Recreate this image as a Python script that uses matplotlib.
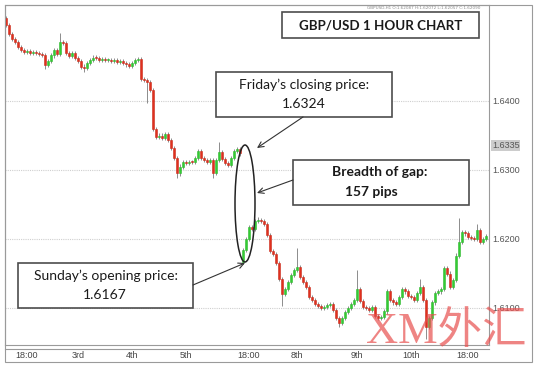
import numpy as np
import matplotlib.pyplot as plt
from matplotlib.patches import Rectangle, Ellipse
from matplotlib.transforms import blended_transform_factory

# GBP/USD hourly closes
first_open = 1.6520
closes = [
    1.6510, 1.6497, 1.6490, 1.6486, 1.6478, 1.6474, 1.6471, 1.6472, 1.6470, 1.6471,
    1.6469, 1.6468, 1.6467, 1.6452, 1.6458, 1.6466, 1.6474, 1.6468, 1.6486, 1.6484,
    1.6470, 1.6465, 1.6470, 1.6462, 1.6458, 1.6450, 1.6448, 1.6455, 1.6460, 1.6463,
    1.6462, 1.6460, 1.6461, 1.6459, 1.6460, 1.6458, 1.6460, 1.6457, 1.6458, 1.6455,
    1.6453, 1.6451, 1.6455, 1.6460, 1.6461, 1.6432, 1.6430, 1.6428, 1.6416, 1.6360,
    1.6348, 1.6350, 1.6346, 1.6352, 1.6343, 1.6332, 1.6318, 1.6295, 1.6305, 1.6312,
    1.6310, 1.6312, 1.6311, 1.6318, 1.6328, 1.6318, 1.6315, 1.6312, 1.6314, 1.6296,
    1.6314, 1.6326, 1.6316, 1.6310, 1.6307, 1.6318, 1.6328, 1.6330, 1.6324,
    # weekend gap
    1.6184, 1.6200, 1.6217, 1.6214, 1.6226, 1.6228, 1.6226, 1.6222, 1.6206, 1.6182,
    1.6178, 1.6165, 1.6142, 1.6120, 1.6128, 1.6138, 1.6148, 1.6155, 1.6159, 1.6145,
    1.6138, 1.6130, 1.6116, 1.6112, 1.6106, 1.6103, 1.6100, 1.6101, 1.6104, 1.6106,
    1.6097, 1.6085, 1.6078, 1.6086, 1.6094, 1.6100, 1.6106, 1.6112, 1.6128, 1.6110,
    1.6102, 1.6100, 1.6097, 1.6102, 1.6089, 1.6086, 1.6087, 1.6095, 1.6124, 1.6112,
    1.6108, 1.6106, 1.6116, 1.6128, 1.6124, 1.6118, 1.6116, 1.6112, 1.6122, 1.6130,
    1.6112, 1.6072, 1.6085, 1.6108, 1.6122, 1.6124, 1.6128, 1.6158, 1.6150, 1.6130,
    1.6140, 1.6176, 1.6196, 1.6210, 1.6208, 1.6203, 1.6202, 1.6200, 1.6213, 1.6196,
    1.6200, 1.6204,
]
gap_index = 79
sunday_open = 1.6167
friday_close = 1.6324

# long wicks
spike_idx = [13, 18, 26, 47, 57, 69, 71, 84, 92, 97, 111, 117, 138, 140, 151, 157]
spike_val = [1.6446, 1.6498, 1.6442, 1.6397, 1.6288, 1.6288, 1.6340, 1.6232, 1.6103,
             1.6187, 1.6072, 1.6155, 1.6142, 1.6055, 1.6230, 1.6222]

price_levels = [1.6400, 1.6300, 1.6200, 1.6100]
price_labels = ['1.6400', '1.6300', '1.6200', '1.6100']
last_price = 1.6335
time_pos = [7, 24, 42, 60, 81, 97, 117, 135, 154]
time_labels = ['18:00', '3rd', '4th', '5th', '18:00', '8th', '9th', '10th', '18:00']

c = np.array(closes)
o = np.array([first_open] + closes[:-1])
o[gap_index] = sunday_open
hi = np.maximum(o, c) + 0.0003
lo = np.minimum(o, c) - 0.0003
for i, v in zip(spike_idx, spike_val):
    if v > max(o[i], c[i]):
        hi[i] = v
    else:
        lo[i] = v
x = np.arange(len(c))
up = c >= o
body = np.maximum(np.abs(c - o), 0.00015)

fig = plt.figure(figsize=(5.39, 3.69), dpi=100)
W, H = 539, 369
ax = fig.add_axes([5 / W, 1 - 345 / H, 484 / W, 340 / H])
ax.set_xlim(-0.33, 161)
ax.set_ylim(1.604638, 1.653913)

for p in price_levels:
    ax.axhline(p, color='#cfcfcf', lw=0.8, ls=(0, (1, 1)), zorder=1)

ax.vlines(x, lo, hi, color='#7a7a7a', lw=0.6, zorder=2)
ax.bar(x[up], body[up], bottom=np.minimum(o, c)[up], width=0.9, color='#33cc33',
       edgecolor='#2fb82f', linewidth=0.4, zorder=3)
ax.bar(x[~up], body[~up], bottom=np.minimum(o, c)[~up], width=0.9, color='#e0301e',
       edgecolor='#c92a1a', linewidth=0.4, zorder=3)

for s in ax.spines.values():
    s.set_color('#9a9a9a')
    s.set_linewidth(0.8)
ax.set_yticks([])
ax.set_xticks(time_pos)
ax.set_xticklabels(time_labels, fontsize=6.5, color='#444444', family='Liberation Sans')
ax.tick_params(axis='x', length=0, pad=4.5)

tr = blended_transform_factory(ax.transAxes, ax.transData)
for p, lab in zip(price_levels, price_labels):
    ax.text(1.006, p, lab, transform=tr, fontsize=6.5, color='#555555',
            family='Liberation Sans', va='center', ha='left', clip_on=False)
ax.text(1.006, last_price, '1.6335', transform=tr, fontsize=6.5, color='#555555',
        family='Liberation Sans', va='center', ha='left', clip_on=False,
        bbox=dict(boxstyle='square,pad=0.1', fc='#cccccc', ec='none'))

# overlay in pixel coordinates for the annotations
ov = fig.add_axes([0, 0, 1, 1], zorder=5)
ov.set_xlim(0, W)
ov.set_ylim(H, 0)
ov.axis('off')

ov.add_patch(Rectangle((5, 5), 527, 357, fill=False, ec='#9a9a9a', lw=0.8))
ov.plot([5, 489], [349, 349], color='#9a9a9a', lw=0.8)

ov.text(424, 8, 'GBPUSD,H1 O:1.62087 H:1.62072 L:1.62057 C:1.62090',
        fontsize=3, color='#8a8a8a', ha='center', va='center')

font = ['Lato', 'DejaVu Sans']


def box(x0, y0, x1, y1):
    ov.add_patch(Rectangle((x0, y0), x1 - x0, y1 - y0, fc='white', ec='#4d4d4d', lw=1.2))


box(282, 12, 479, 38)
ov.text(380.5, 25.5, 'GBP/USD 1 HOUR CHART', ha='center', va='center',
        fontsize=9.6, fontweight='bold', family=font, color='#1a1a1a')

box(216, 72, 392, 117)
ov.text(304, 85, 'Friday\u2019s closing price:', ha='center', va='center',
        fontsize=10, family=font, color='#1a1a1a')
ov.text(304, 104, f'{friday_close:.4f}', ha='center', va='center',
        fontsize=10, family=font, color='#1a1a1a')

box(293, 160, 469, 205)
ov.text(380, 172, 'Breadth of gap:', ha='center', va='center',
        fontsize=10, fontweight='bold', family=font, color='#1a1a1a')
ov.text(371, 192, '157 pips', ha='center', va='center',
        fontsize=10, fontweight='bold', family=font, color='#1a1a1a')

box(18, 263, 193, 308)
ov.text(106, 276, 'Sunday\u2019s opening price:', ha='center', va='center',
        fontsize=10, family=font, color='#1a1a1a')
ov.text(105, 295, f'{sunday_open:.4f}', ha='center', va='center',
        fontsize=10, family=font, color='#1a1a1a')

ov.add_patch(Ellipse((245, 203.5), 20, 117, fill=False, ec='#222222', lw=1.1))

arrow = dict(arrowstyle='->', color='#333333', lw=0.8, shrinkA=0, shrinkB=0)
ov.annotate('', xy=(257, 148), xytext=(303, 117), arrowprops=arrow)
ov.annotate('', xy=(257, 193), xytext=(293, 180), arrowprops=arrow)
ov.annotate('', xy=(245, 263), xytext=(193, 285), arrowprops=arrow)

ov.text(446, 332, 'XM外汇', color='#e8504f', alpha=0.7, fontsize=32,
        family=['Liberation Serif', 'Noto Sans CJK SC'], ha='center', va='center')

fig.savefig('out.png', dpi=100)
